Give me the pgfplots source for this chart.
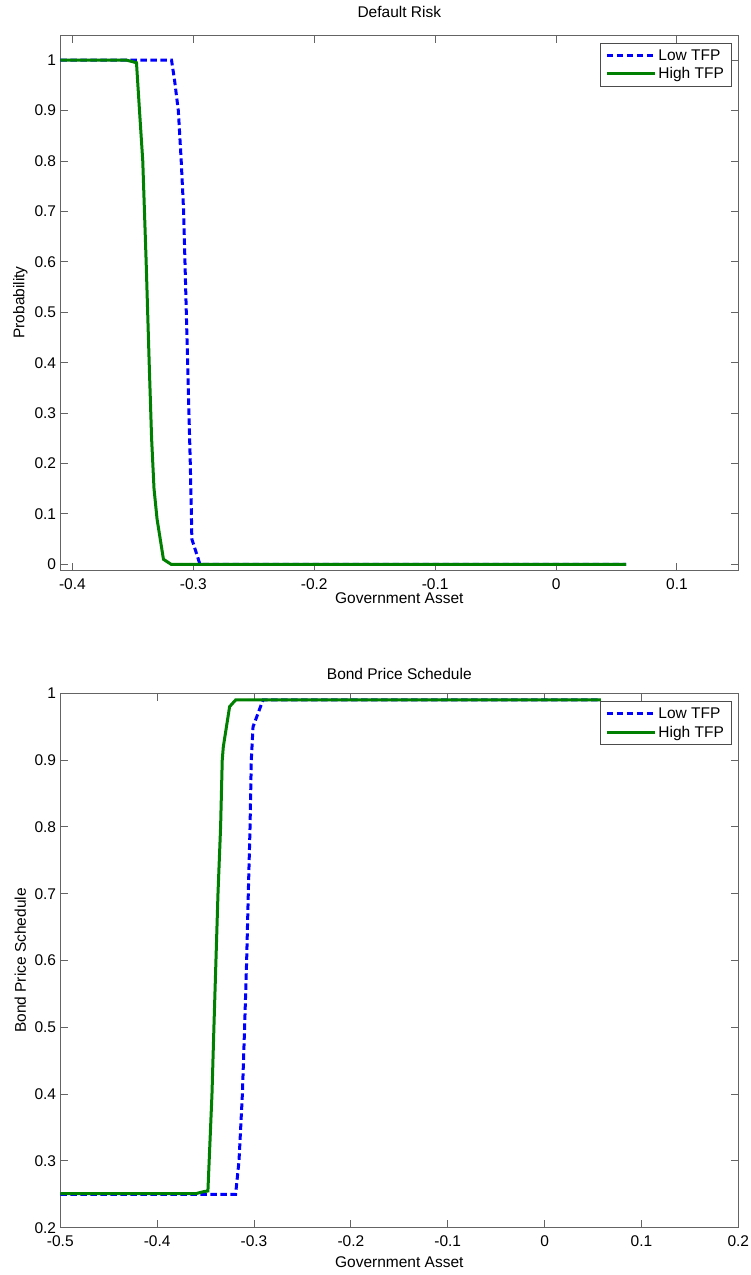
\documentclass[border=0pt]{standalone}
\usepackage{pgfplots}
\pgfplotsset{compat=1.18}
\usepackage{fontspec}
\setmainfont{Liberation Sans}
\definecolor{mblue}{RGB}{0,0,255}
\definecolor{mgreen}{RGB}{0,128,0}
\definecolor{axgray}{RGB}{100,100,100}
\pgfplotsset{
  matlab/.style={
    scale only axis,
    width=678pt,
    axis line style={axgray,line width=1pt},
    every tick/.style={axgray,line width=1pt},
    tick align=inside,
    major tick length=7.5pt,
    xtick pos=both, ytick pos=both,
    /pgf/number format/assume math mode=true,
    tick label style={font=\fontsize{15.5}{18}\selectfont},
    label style={font=\fontsize{15.5}{18}\selectfont},
    title style={font=\fontsize{15.5}{18}\selectfont},
    xticklabel style={anchor=base,yshift=-19pt},
    yticklabel style={inner sep=2pt,xshift=-2pt},
    ylabel style={at={(axis description cs:-0.059,0.5)},anchor=center,rotate=0},
    legend style={at={(1,1)},anchor=north east,xshift=-7pt,yshift=-8pt,
      draw=black!70,line width=0.8pt,font=\fontsize{15.5}{18}\selectfont,
      inner xsep=5pt,inner ysep=4pt,row sep=2pt,cells={anchor=west}},
    legend image code/.code={\draw[#1] (0pt,0pt) -- (48pt,0pt);},
    legend cell align=left,
  },
  lowtfp/.style={mblue,line width=3pt,dash pattern=on 6.5pt off 3.5pt},
  hightfp/.style={mgreen,line width=3pt},
}
\begin{document}
\begin{tikzpicture}
\begin{axis}[matlab,
  at={(0,0)},anchor=north west,
  height=535pt,
  xmin=-0.41,xmax=0.1507,ymin=-0.0113,ymax=1.05,
  xtick={-0.4,-0.3,-0.2,-0.1,0,0.1},
  ytick={0,0.1,0.2,0.3,0.4,0.5,0.6,0.7,0.8,0.9,1},
  title={Default Risk},
  title style={at={(0.5,1)},anchor=center,yshift=17pt},
  xlabel={Government Asset},
  xlabel style={at={(axis description cs:0.5,0)},anchor=center,yshift=-28pt},
  ylabel={Probability},
]
\addplot[lowtfp] coordinates {
(-0.41,1) (-0.318,1) (-0.3155,0.96) (-0.3124,0.9) (-0.310,0.8) (-0.308,0.7)
(-0.3069,0.6) (-0.3058,0.5) (-0.3047,0.4) (-0.3036,0.3) (-0.3025,0.2)
(-0.3016,0.1) (-0.3012,0.05) (-0.2945,0) (0.058,0)};
\addlegendentry{Low TFP}
\addplot[hightfp] coordinates {
(-0.41,1) (-0.355,1) (-0.347,0.995) (-0.3445,0.9) (-0.3418,0.8) (-0.339,0.6)
(-0.3365,0.4) (-0.3345,0.25) (-0.3325,0.15) (-0.330,0.09) (-0.3247,0.01) (-0.3184,0) (0.058,0)};
\addlegendentry{High TFP}
\end{axis}
\begin{axis}[matlab,
  at={(0,-658.3pt)},anchor=north west,
  height=534.4pt,
  xmin=-0.5,xmax=0.2,ymin=0.2,ymax=1,
  xtick={-0.5,-0.4,-0.3,-0.2,-0.1,0,0.1,0.2},
  ytick={0.2,0.3,0.4,0.5,0.6,0.7,0.8,0.9,1},
  title={Bond Price Schedule},
  title style={at={(0.5,1)},anchor=center,yshift=13pt},
  xlabel={Government Asset},
  xlabel style={at={(axis description cs:0.5,0)},anchor=center,yshift=-34pt},
  ylabel={Bond Price Schedule},
]
\addplot[lowtfp] coordinates {
(-0.5,0.25) (-0.319,0.25) (-0.3155,0.3) (-0.312,0.4) (-0.3097,0.5) (-0.3076,0.6)
(-0.3059,0.7) (-0.3041,0.8) (-0.3028,0.9) (-0.301,0.95) (-0.2907,0.99) (0.058,0.99)};
\addlegendentry{Low TFP}
\addplot[hightfp] coordinates {
(-0.5,0.251) (-0.36,0.251) (-0.352,0.254) (-0.3476,0.255) (-0.3434,0.4)
(-0.3414,0.5) (-0.3393,0.6) (-0.3372,0.7) (-0.3345,0.8) (-0.3328,0.9)
(-0.3317,0.92) (-0.3252,0.98) (-0.319,0.99) (0.058,0.99)};
\addlegendentry{High TFP}
\end{axis}
\pgfresetboundingbox
\path[use as bounding box] (-60.3pt,35pt) rectangle (690.7pt,-1240pt);
\end{tikzpicture}
\end{document}
